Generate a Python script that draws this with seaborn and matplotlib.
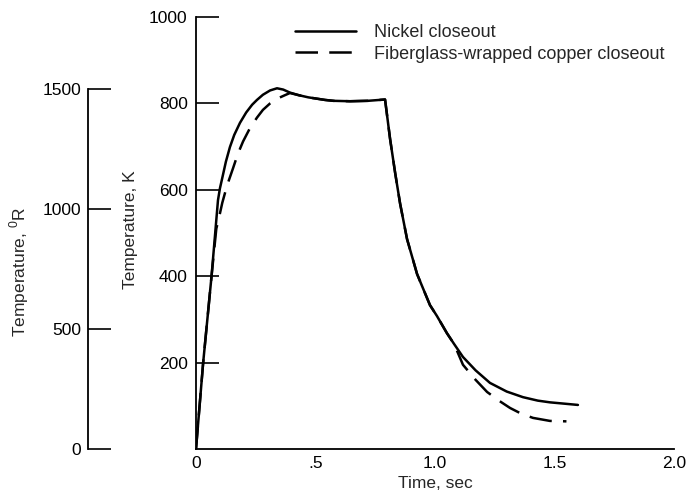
import matplotlib
matplotlib.use("Agg")
import matplotlib.pyplot as plt
from matplotlib import font_manager
import seaborn as sns
import pandas as pd

# ---- data ----
nickel_time = [0.0, 0.030, 0.065, 0.092, 0.100, 0.113, 0.125, 0.142, 0.160, 0.184, 0.210,
               0.235, 0.255, 0.280, 0.310, 0.339, 0.365, 0.393, 0.430, 0.470, 0.505, 0.540,
               0.574, 0.644, 0.720, 0.791, 0.812, 0.833, 0.854, 0.883, 0.925, 0.979, 1.008,
               1.050, 1.080, 1.117, 1.170, 1.230, 1.300, 1.368, 1.430, 1.481, 1.540, 1.598]
nickel_temp = [0, 200, 400, 576, 603, 635, 665, 699, 727, 755, 779,
               797, 808, 820, 830, 835, 832, 825, 819, 814, 811, 808,
               806, 805, 806, 809, 718, 640, 568, 486, 405, 333, 308,
               268, 243, 213, 182, 153, 133, 120, 112, 108, 105, 102]

copper_time = [0.0, 0.030, 0.065, 0.085, 0.098, 0.110, 0.130, 0.155, 0.175, 0.197, 0.225,
               0.255, 0.280, 0.310, 0.340, 0.372, 0.393, 0.430, 0.470, 0.505, 0.540,
               0.574, 0.644, 0.720, 0.791, 0.812, 0.833, 0.854, 0.883, 0.925, 0.979, 1.008,
               1.050, 1.080, 1.117, 1.170, 1.218, 1.270, 1.314, 1.360, 1.410, 1.481, 1.550]
copper_temp = [0, 200, 400, 510, 540, 570, 610, 650, 683, 712, 742,
               767, 785, 800, 811, 819, 824, 819, 814, 811, 808,
               806, 805, 806, 809, 718, 640, 568, 486, 405, 333, 308,
               268, 243, 195, 160, 132, 111, 95, 82, 72, 65, 64]

series_labels = ["Nickel closeout", "Fiberglass-wrapped copper closeout"]
x_ticks = [0, 0.5, 1.0, 1.5, 2.0]
x_ticklabels = ["0", ".5", "1.0", "1.5", "2.0"]
k_ticks = [200, 400, 600, 800, 1000]
r_ticks = [0, 500, 1000, 1500]

# ---- fonts ----
sns.set_style("white")
avail = {f.name for f in font_manager.fontManager.ttflist}
main_font = "DejaVu Sans"
for cand in ["Liberation Sans Narrow", "Liberation Sans"]:
    if cand in avail:
        main_font = cand
        break
plt.rcParams["font.family"] = [main_font, "DejaVu Sans"]
plt.rcParams["mathtext.fontset"] = "custom"
plt.rcParams["mathtext.rm"] = main_font
FS = 12.5

df = pd.concat([
    pd.DataFrame({"Time": nickel_time, "Temp": nickel_temp, "series": series_labels[0]}),
    pd.DataFrame({"Time": copper_time, "Temp": copper_temp, "series": series_labels[1]}),
], ignore_index=True)

W, H = 693, 499
fig = plt.figure(figsize=(W / 100, H / 100), dpi=100)
ax = fig.add_axes([196 / W, 1 - 449 / H, (674 - 196) / W, (449 - 17) / H])

sns.lineplot(data=df, x="Time", y="Temp", style="series",
             dashes={series_labels[0]: "", series_labels[1]: (9, 4.5)},
             color="black", linewidth=1.8, estimator=None, sort=False, ax=ax)

ax.set_xlim(0, 2.0)
ax.set_ylim(0, 1000)
for s in ["top", "right"]:
    ax.spines[s].set_visible(False)
for s in ["left", "bottom"]:
    ax.spines[s].set_linewidth(1.3)
    ax.spines[s].set_color("black")

ax.set_xticks(x_ticks)
ax.set_xticklabels(x_ticklabels)
ax.set_yticks(k_ticks)
ax.set_yticklabels([str(v) for v in k_ticks])
ax.tick_params(axis="both", direction="in", length=16.5, width=1.2, colors="black",
               labelsize=FS)
ax.tick_params(axis="y", pad=6)
ax.tick_params(axis="x", pad=5)
ax.set_xlabel("Time, sec", fontsize=FS, labelpad=4)
ax.set_ylabel("Temperature, K", fontsize=FS)
ax.yaxis.set_label_coords((138 - 196) / (674 - 196), (449 - 230) / (449 - 17))

# Rankine axis (1 K = 1.8 °R)
axr = ax.twinx()
axr.set_ylim(0, 1800)
for s in ["top", "right", "bottom"]:
    axr.spines[s].set_visible(False)
axr.spines["left"].set_visible(True)
axr.spines["left"].set_position(("axes", (88 - 196) / (674 - 196)))
axr.spines["left"].set_bounds(0, 1500)
axr.spines["left"].set_linewidth(1.3)
axr.spines["left"].set_color("black")
axr.yaxis.set_ticks_position("left")
axr.yaxis.set_label_position("left")
axr.set_yticks(r_ticks)
axr.set_yticklabels([str(v) for v in r_ticks])
axr.tick_params(axis="y", direction="in", length=16.5, width=1.2, colors="black",
                labelsize=FS, pad=5)
axr.set_ylabel(r"Temperature, $^{0}$R", fontsize=FS)
axr.yaxis.set_label_coords((31 - 196) / (674 - 196), (449 - 272) / (449 - 17))

handles, labels = ax.get_legend_handles_labels()
if ax.get_legend() is not None:
    ax.get_legend().remove()
leg = fig.legend(handles, labels, loc="upper left",
                 bbox_to_anchor=(295 / W, 1 - 24 / H), frameon=False,
                 fontsize=FS + 0.5, handlelength=3.4, handletextpad=1.0,
                 labelspacing=0.25, borderpad=0, borderaxespad=0)

fig.savefig("out.png", dpi=100)
